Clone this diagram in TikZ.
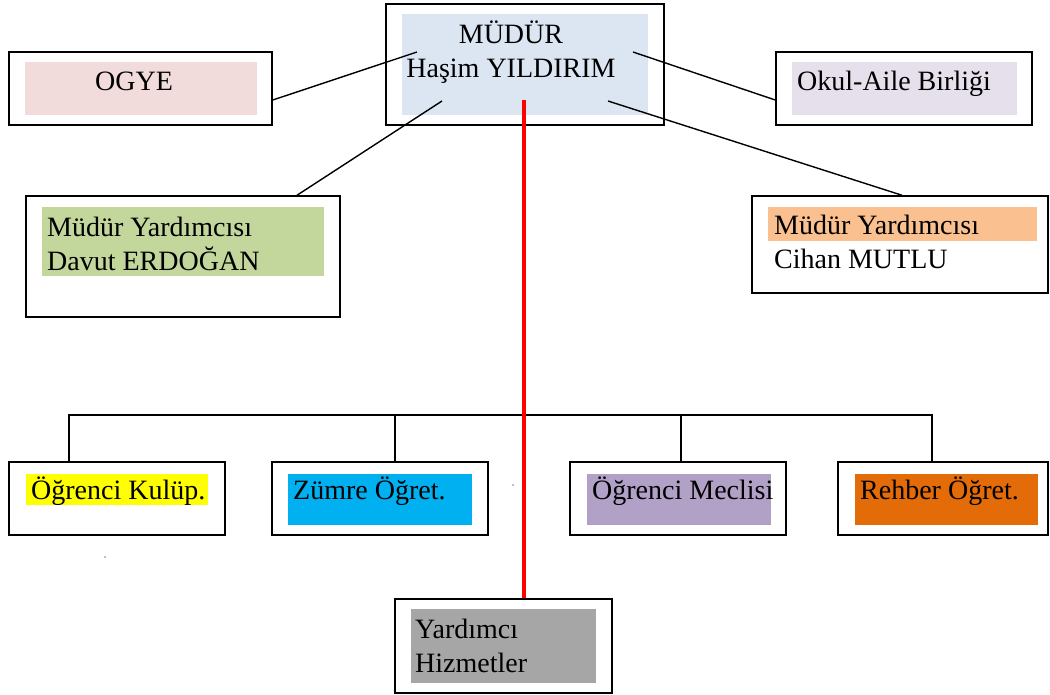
\documentclass[tikz,border=0pt]{standalone}
\usepackage{fontspec}
\setmainfont{Liberation Serif}
\usepackage{tikz}
\usetikzlibrary{calc,fit}
\definecolor{mudurC}{HTML}{DCE6F2}
\definecolor{ogyeC}{HTML}{F2DCDB}
\definecolor{okulC}{HTML}{E5E0EC}
\definecolor{davutC}{HTML}{C3D69B}
\definecolor{cihanC}{HTML}{FAC090}
\definecolor{kulupC}{HTML}{FFFF00}
\definecolor{zumreC}{HTML}{00B0F0}
\definecolor{meclisC}{HTML}{B2A1C7}
\definecolor{rehberC}{HTML}{E36C09}
\definecolor{yardimciC}{HTML}{A6A6A6}
\tikzset{
    frame/.style={draw, line width=1.5pt, inner sep=0pt},
    bg/.style={inner sep=0pt},
    txt/.style={anchor=base west, inner sep=0pt, align=left, font=\fontsize{28}{34}\selectfont},
    link/.style={line width=1.4pt},
    redlink/.style={red, line width=4pt}
}
\begin{document}
\begin{tikzpicture}[x=1pt,y=-1pt]
    \useasboundingbox (0,0) rectangle (1050,694);
    % frames
    \node[frame, fit={(386,4) (664,125)}] (mudur) {};
    \node[frame, fit={(9,52) (272,125)}] (ogye) {};
    \node[frame, fit={(776,52) (1032,125)}] (okul) {};
    \node[frame, fit={(26,196) (340,317)}] (davut) {};
    \node[frame, fit={(752,196) (1048,293)}] (cihan) {};
    \node[frame, fit={(9,462) (225,535)}] (kulup) {};
    \node[frame, fit={(272,462) (488,535)}] (zumre) {};
    \node[frame, fit={(570,462) (786,535)}] (meclis) {};
    \node[frame, fit={(838,462) (1048,535)}] (rehber) {};
    \node[frame, fit={(395,599) (612,693)}] (yardimci) {};
    % coloured backgrounds
    \node[bg, fill=mudurC, fit={(402,14) (648,115)}] (mudurBg) {};
    \node[bg, fill=ogyeC, fit={(25,62) (257,115)}] (ogyeBg) {};
    \node[bg, fill=okulC, fit={(792,62) (1017,115)}] (okulBg) {};
    \node[bg, fill=davutC, fit={(42,207) (324,276)}] (davutBg) {};
    \node[bg, fill=cihanC, fit={(768,207) (1037,241)}] (cihanBg) {};
    \node[bg, fill=kulupC, fit={(26,474) (208,505)}] (kulupBg) {};
    \node[bg, fill=zumreC, fit={(288,474) (472,525)}] (zumreBg) {};
    \node[bg, fill=meclisC, fit={(587,474) (771,525)}] (meclisBg) {};
    \node[bg, fill=rehberC, fit={(855,474) (1038,525)}] (rehberBg) {};
    \node[bg, fill=yardimciC, fit={(411,609) (596,683)}] (yardimciBg) {};
    % texts (two-line texts sit on their last baseline)
    \node[txt, anchor=base, align=center] (mudurT) at (511,77) {MÜDÜR\\Haşim YILDIRIM};
    \node[txt] (ogyeT) at (95,90) {OGYE};
    \node[txt] (okulT) at (797,90) {Okul-Aile Birliği};
    \node[txt] (davutT) at (47,270) {Müdür Yardımcısı\\Davut ERDOĞAN};
    \node[txt] (cihanT) at (774,268) {Müdür Yardımcısı\\Cihan MUTLU};
    \node[txt] (kulupT) at (31,499) {Öğrenci Kulüp.};
    \node[txt] (zumreT) at (293,499) {Zümre Öğret.};
    \node[txt] (meclisT) at (592,499) {Öğrenci Meclisi};
    \node[txt] (rehberT) at (860,499) {Rehber Öğret.};
    \node[txt] (yardimciT) at (415,672) {Yardımcı\\Hizmetler};
    % connectors from the head
    \coordinate (mOgye) at (417,52);
    \coordinate (mOkul) at (633,52);
    \coordinate (mDavut) at (442,101);
    \coordinate (mCihan) at (608,101);
    \draw[link] (ogye.east) ++(0,11.5) -- (mOgye);
    \draw[link] (okul.west) ++(0,11.5) -- (mOkul);
    \draw[link] (davut.north -| 297,0) -- (mDavut);
    \draw[link] (cihan.north -| 902,0) -- (mCihan);
    % bus to the lower boxes
    \coordinate (busL) at (69,415);
    \coordinate (busZ) at (395,415);
    \coordinate (busM) at (681,415);
    \coordinate (busR) at (932,415);
    \draw[link] (busL |- kulup.north) -- (busL) -- (busR) -- (busR |- rehber.north);
    \draw[link] (busZ) -- (busZ |- zumre.north);
    \draw[link] (busM) -- (busM |- meclis.north);
    % main line
    \coordinate (mMain) at (524,100);
    \draw[redlink] (mMain) -- (mMain |- yardimci.north);
    % stray dots
    \fill[gray] (105,557) circle (0.8);
    \fill[gray] (513,485) circle (0.8);
\end{tikzpicture}
\end{document}
